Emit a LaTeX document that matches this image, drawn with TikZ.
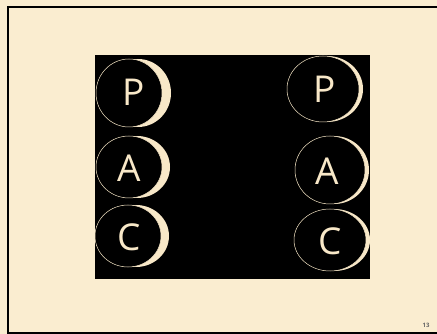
\documentclass[tikz,border=0pt]{standalone}
\usepackage{fontspec}
\setmainfont{Open Sans}
\definecolor{paper}{RGB}{250,237,208}
\definecolor{moon}{RGB}{248,232,200}
\begin{document}
\begin{tikzpicture}[x=1pt,y=-1pt,
  letter/.style={text=moon,font=\fontsize{37}{37}\selectfont,inner sep=0pt},
  ring/.style={fill=black,draw=moon,line width=0.5pt}]
\useasboundingbox (0,0) rectangle (437,334);
\fill[paper] (0,0) rectangle (437,334);
% frame
\draw[line width=2pt] (437,7) -- (8,7) -- (8,333) -- (437,333);
% black panel
\fill[black] (95,55) rectangle (370,279);
\foreach \n/\cx/\cy/\rx/\ry/\d/\lx/\ly/\t in {
  lp/129/93/33/34/9/134/92/P,
  la/129/167/33/31/8/129/168/A,
  lc/128/236/33/31/8/129/237/C,
  rp/323/89/36/33/4/325/89/P,
  ra/330/170/35/34/4/327/171/A,
  rc/330/240/36/31/4/330/241/C}{
  \fill[moon] (\cx+\d,\cy) ellipse [x radius=\rx, y radius=\ry];
  \path[ring] (\cx,\cy) ellipse [x radius=\rx, y radius=\ry];
  \node[letter] (\n) at (\lx,\ly) {\t};
}
\node[font=\fontsize{6}{6}\selectfont\bfseries,text=black!60,inner sep=0pt] (num) at (426,325) {13};
\end{tikzpicture}
\end{document}
